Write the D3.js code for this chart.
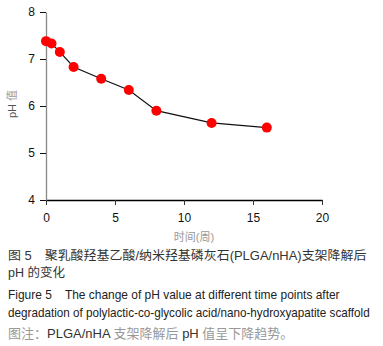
<!DOCTYPE html>
<html>
<head>
<meta charset="utf-8">
<script src="https://cdn.jsdelivr.net/npm/d3@7"></script>
<style>
  body { margin: 0; background: #fff; }
  svg { display: block; font-family: "Liberation Sans", Arial, "Noto Sans CJK SC", sans-serif; }
  text { white-space: pre; }
</style>
</head>
<body>
<svg id="drawing_region"></svg>
<script>
// time (weeks) and pH
const weeks = [0, 0.4, 1, 2, 4, 6, 8, 12, 16];
const ph = [7.38, 7.33, 7.15, 6.83, 6.58, 6.34, 5.90, 5.64, 5.54];
const xticks = [0, 5, 10, 15, 20];
const yticks = [4, 5, 6, 7, 8];

const captions = [
    {text: '图 5　聚乳酸羟基乙酸/纳米羟基磷灰石(PLGA/nHA)支架降解后', y: 260, len: 359, fill: '#333'},
    {text: 'pH 的变化', y: 277, len: 0, fill: '#333'},
    {text: 'Figure 5    The change of pH value at different time points after', y: 299, len: 332, fill: '#222'},
    {text: 'degradation of polylactic-co-glycolic acid/nano-hydroxyapatite scaffold', y: 317, len: 362, fill: '#222'}
];

const config = {
    width: 383,
    height: 346,
    margin: {top: 12, left: 46, right: 61, bottom: 146}
};

const data = weeks.map((w, i) => ({x: w, y: ph[i]}));

const svg = d3.select('#drawing_region')
    .attr('width', config.width)
    .attr('height', config.height);

const inner_width = config.width - config.margin.left - config.margin.right;
const inner_height = config.height - config.margin.top - config.margin.bottom;

const chart = svg.append('g')
    .attr('transform', `translate(${config.margin.left}, ${config.margin.top})`);

const xscale = d3.scaleLinear().domain([0, 20]).range([0, inner_width]);
const yscale = d3.scaleLinear().domain([4, 8]).range([inner_height, 0]);

// x axis
const xaxis = chart.append('g')
    .attr('transform', `translate(0, ${inner_height})`)
    .call(d3.axisBottom(xscale).tickValues(xticks).tickFormat(d3.format('d'))
        .tickSize(5).tickSizeOuter(0).tickPadding(8));
xaxis.select('.domain').attr('stroke', '#000').attr('stroke-width', 1.3);
xaxis.selectAll('.tick line').attr('stroke', '#333');
xaxis.selectAll('.tick text').style('font-size', '12px').attr('fill', '#111');

// y axis
const yaxis = chart.append('g')
    .call(d3.axisLeft(yscale).tickValues(yticks).tickFormat(d3.format('d'))
        .tickSize(6).tickSizeOuter(0).tickPadding(5));
yaxis.select('.domain').attr('stroke', '#888').attr('stroke-width', 1.3);
yaxis.selectAll('.tick line').attr('stroke', '#111');
yaxis.selectAll('.tick text').style('font-size', '12px').attr('fill', '#111');

// axis labels
svg.append('text')
    .attr('x', 194)
    .attr('y', 241)
    .attr('text-anchor', 'middle')
    .style('font-size', '11px')
    .attr('fill', '#999')
    .text('时间(周)');

svg.append('text')
    .attr('transform', 'translate(16, 104) rotate(-90)')
    .attr('text-anchor', 'middle')
    .style('font-size', '11px')
    .attr('fill', '#999')
    .html('<tspan fill="#555">pH</tspan> 值');

// line + points
const line = d3.line()
    .x(d => xscale(d.x))
    .y(d => yscale(d.y));

chart.append('path')
    .attr('d', line(data))
    .attr('stroke', '#111')
    .attr('stroke-width', 1.2)
    .attr('fill', 'none');

chart.selectAll('circle')
    .data(data)
    .enter()
    .append('circle')
    .attr('cx', d => xscale(d.x))
    .attr('cy', d => yscale(d.y))
    .attr('r', 5)
    .attr('fill', '#ff0000');

// caption: squeeze each line horizontally to the width it has in the figure
captions.forEach(c => {
    const t = svg.append('text')
        .attr('x', 0)
        .attr('y', 0)
        .style('font-size', '12.5px')
        .attr('fill', c.fill)
        .text(c.text);
    const sx = c.len ? c.len / t.node().getComputedTextLength() : 1;
    t.attr('transform', `translate(8, ${c.y}) scale(${sx}, 1)`);
});

svg.append('text')
    .attr('x', 8)
    .attr('y', 338)
    .style('font-size', '13px')
    .attr('fill', '#999')
    .html('图注：<tspan fill="#333">PLGA/nHA</tspan> 支架降解后 <tspan fill="#333">pH</tspan> 值呈下降趋势。');
</script>
</body>
</html>
